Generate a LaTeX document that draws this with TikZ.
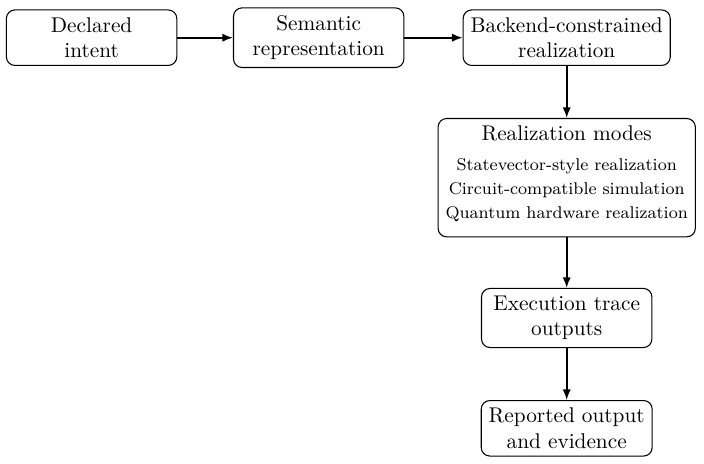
\documentclass[tikz,border=0pt]{standalone}
\usetikzlibrary{arrows.meta}
\begin{document}
\begin{tikzpicture}[x=0.4695pt,y=-0.4695pt,
  box/.style={draw,rounded corners=4pt,line width=0.5pt,align=center,inner sep=3.5pt,minimum width=80pt},
  arr/.style={-{Latex[length=5pt,width=3.9pt]},line width=0.8pt}]
\useasboundingbox (0,0) rectangle (704,464);
\node[box] (a) at (91.6,37.7) {Declared\\intent};
\node[box] (b) at (318.7,37.7) {Semantic\\representation};
\node[box] (c) at (566.7,37.7) {Backend-constrained\\realization};
\node[box,font=\footnotesize,text depth=5.3pt,anchor=north] (d) at (566.7,118)
  {{\normalsize Realization modes}\\[4.4pt]Statevector-style realization\\[1.6pt]Circuit-compatible simulation\\[1.8pt]Quantum hardware realization};
\node[box] (e) at (566.7,318) {Execution trace\\outputs};
\node[box] (f) at (566.7,428.3) {Reported output\\and evidence};
\draw[arr] (a) -- (b);
\draw[arr] (b) -- (c);
\draw[arr] (c) -- (d);
\draw[arr] (d) -- (e);
\draw[arr] (e) -- (f);
\end{tikzpicture}
\end{document}
